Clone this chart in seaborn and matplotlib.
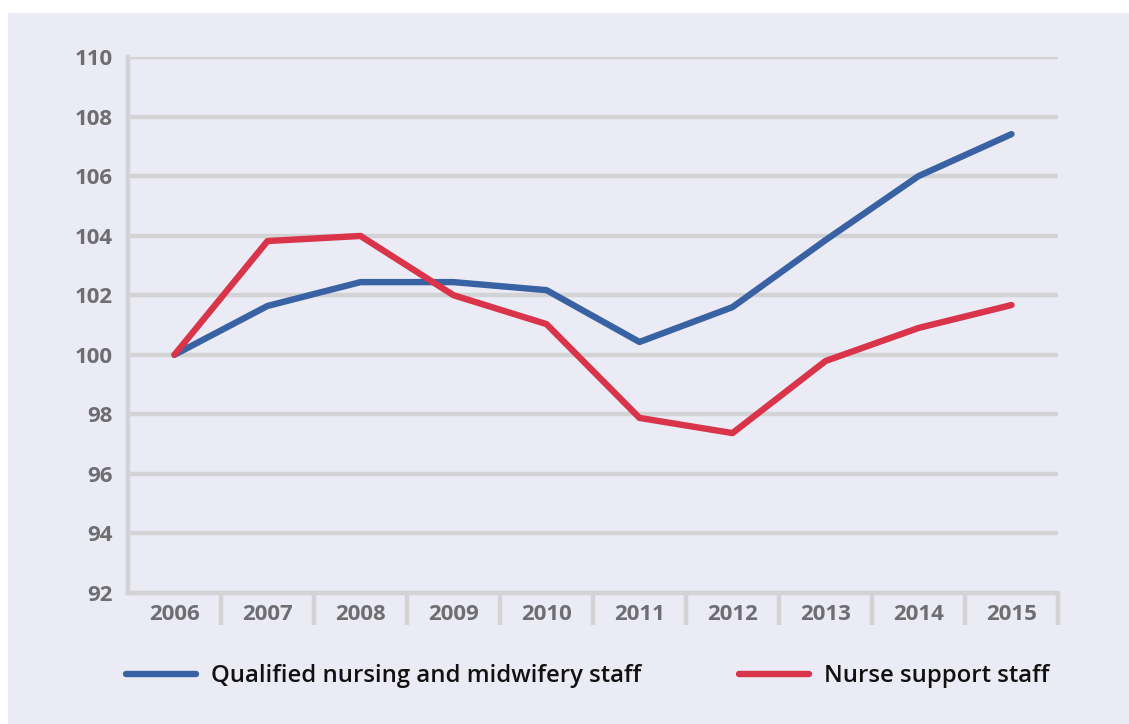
import matplotlib
matplotlib.use("Agg")
import matplotlib.pyplot as plt
from matplotlib.patches import Rectangle
import seaborn as sns
import pandas as pd
import numpy as np

years = ["2006", "2007", "2008", "2009", "2010", "2011", "2012", "2013", "2014", "2015"]
qualified = [100.0, 101.64, 102.44, 102.44, 102.17, 100.43, 101.6, 103.85, 106.0, 107.41]
support = [100.0, 103.82, 103.99, 102.0, 101.03, 97.88, 97.37, 99.79, 100.9, 101.67]
series_names = ["Qualified nursing and midwifery staff", "Nurse support staff"]
y_ticks = [92, 94, 96, 98, 100, 102, 104, 106, 108, 110]

BG = "#EBEBF5"
GRID = "#D3D3D6"
TICKC = "#6D6D72"
BLUE = "#3862A3"
RED = "#D9344A"

sns.set_theme(style="white")
plt.rcParams["font.family"] = ["Open Sans", "DejaVu Sans"]
plt.rcParams["lines.solid_capstyle"] = "round"
plt.rcParams["lines.solid_joinstyle"] = "round"

df = pd.DataFrame({
    "year": years * 2,
    "x": list(range(len(years))) * 2,
    "value": qualified + support,
    "series": [series_names[0]] * len(years) + [series_names[1]] * len(years),
})

fig = plt.figure(figsize=(11.29, 7.24), dpi=100)
fig.patch.set_facecolor("white")
fig.patches.append(Rectangle((8 / 1129, 0), 1, 1 - 13 / 724, transform=fig.transFigure,
                             facecolor=BG, edgecolor="none", zorder=-10))
ax = fig.add_axes([128 / 1129, 1 - 593 / 724, 930 / 1129, 536 / 724])
ax.set_facecolor(BG)

sns.lineplot(data=df, x="x", y="value", hue="series",
             palette={series_names[0]: BLUE, series_names[1]: RED},
             linewidth=4.6, ax=ax, legend=False, zorder=5)

ax.set_xlim(-0.5, len(years) - 0.5)
ax.set_ylim(92, 110)
ax.set_yticks(y_ticks)
ax.set_yticklabels([str(t) for t in y_ticks])
ax.set_xticks(range(len(years)))
ax.set_xticklabels(years)
ax.set_xticks(np.arange(0.5, len(years), 1.0), minor=True)
ax.set_xlabel("")
ax.set_ylabel("")

for y in y_ticks[1:]:
    ax.axhline(y, color=GRID, linewidth=3.2, zorder=1)

for s in ["top", "right"]:
    ax.spines[s].set_visible(False)
for s in ["left", "bottom"]:
    ax.spines[s].set_color(GRID)
    ax.spines[s].set_linewidth(3.2)
    ax.spines[s].set_zorder(1)

ax.tick_params(axis="x", which="major", bottom=False, length=0, pad=8, labelsize=16, labelcolor=TICKC)
ax.tick_params(axis="x", which="minor", bottom=True, length=23, width=3.2, color=GRID, direction="out")
ax.tick_params(axis="y", which="major", left=False, length=0, pad=11, labelsize=16, labelcolor=TICKC)
for lbl in ax.get_xticklabels() + ax.get_yticklabels():
    lbl.set_fontweight("bold")

handles = [plt.Line2D([], [], color=BLUE, linewidth=4.6, solid_capstyle="round"),
           plt.Line2D([], [], color=RED, linewidth=4.6, solid_capstyle="round")]
leg = fig.legend(handles, series_names, loc="center left",
                 bbox_to_anchor=(126 / 1129, 1 - 676 / 724), ncol=2, frameon=False,
                 fontsize=17.2, handlelength=2.95, handletextpad=0.6, columnspacing=4.1,
                 borderpad=0, borderaxespad=0)
for t in leg.get_texts():
    t.set_color("#111111")
    t.set_fontweight("semibold")

fig.savefig("out.png", dpi=100, facecolor=fig.get_facecolor())
